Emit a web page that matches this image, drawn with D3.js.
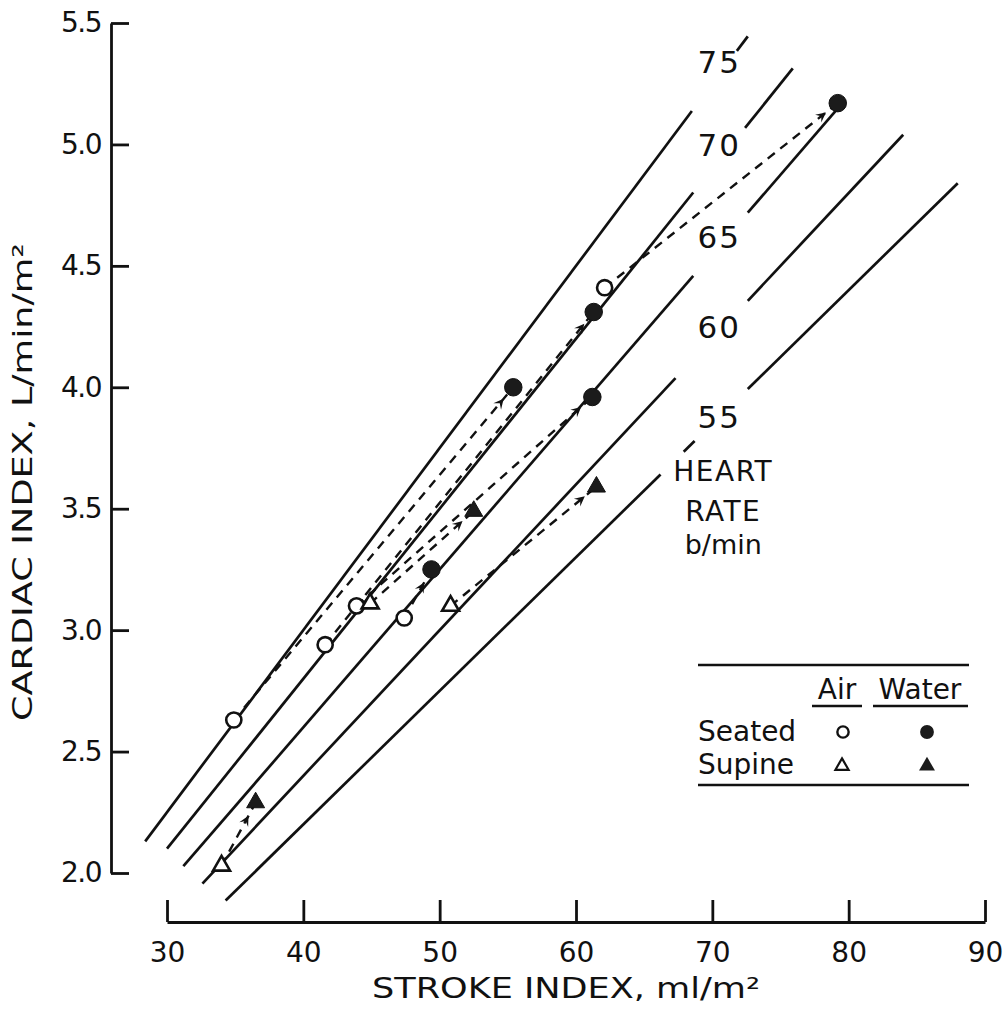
<!DOCTYPE html>
<html>
<head>
<meta charset="utf-8">
<script src="https://cdn.jsdelivr.net/npm/d3@7"></script>
<style>
  body { margin: 0; background: #fff; }
  svg { display: block; }
  text { font-family: "DejaVu Sans", sans-serif; fill: #111; }
</style>
</head>
<body>
<div id="chart"></div>
<script>
// heart-rate isopleths: CI = HR * SI / 1000
const hrLevels = [75, 70, 65, 60, 55];
// stroke-index spans drawn for each isopleth (broken where the labels sit)
const hrSpans = [
    [[28.4, 68.5], [71.8, 72.6]],
    [[30.0, 68.6], [72.4, 75.9]],
    [[31.2, 68.6], [72.6, 79.6]],
    [[32.6, 67.3], [72.6, 84.0]],
    [[34.3, 66.2], [67.9, 68.7], [72.6, 88.0]]
];
const hrLabelSI = 70.5;
const hrLabelCI = [5.34, 5.0, 4.62, 4.25, 3.88];

// [stroke index, cardiac index]
const seatedAir = [[34.9, 2.63], [41.6, 2.94], [43.9, 3.10], [47.4, 3.05], [62.1, 4.41]];
const seatedWater = [[55.4, 4.00], [61.3, 4.31], [61.2, 3.96], [49.4, 3.25], [79.2, 5.17]];
const supineAir = [[34.0, 2.03], [44.9, 3.11], [50.8, 3.10]];
const supineWater = [[36.5, 2.29], [52.5, 3.49], [61.5, 3.59]];

const xMajor = [30, 40, 50, 60, 70, 80, 90];
const xMinor = [35, 45, 55, 65, 75, 85];
const yMajor = [2.0, 2.5, 3.0, 3.5, 4.0, 4.5, 5.0, 5.5];
const yMinor = d3.range(21, 55).filter(d => d % 5 != 0).map(d => d / 10);

const width = 1006, height = 1019;
const ink = "#111";

let svg = d3.select("#chart").append("svg")
    .attr("width", width)
    .attr("height", height);

svg.append("rect").attr("width", width).attr("height", height).attr("fill", "#fff");

let x = d3.scaleLinear().domain([30, 90]).range([167, 985]);
let y = d3.scaleLinear().domain([2.0, 5.5]).range([873, 23]);

const yAxisX = 111, xAxisY = 922;

// y axis (ticks point inward)
let gy = svg.append("g").attr("transform", "translate(" + yAxisX + ",0)");
gy.call(d3.axisLeft(y).tickValues(yMinor).tickSize(-9).tickSizeOuter(0).tickFormat(""));
gy.call(d3.axisLeft(y).tickValues(yMajor).tickSize(-18).tickSizeOuter(0).tickPadding(10)
    .tickFormat(d3.format(".1f")));
gy.selectAll("path, line").attr("stroke", ink).attr("stroke-width", 2.8);
gy.selectAll("text").attr("font-size", 28).attr("fill", ink).style("font-family", "DejaVu Sans")
    .attr("letter-spacing", -1.5);

// x axis
let gx = svg.append("g").attr("transform", "translate(0," + xAxisY + ")");
gx.call(d3.axisBottom(x).tickValues(xMinor).tickSize(-11).tickSizeOuter(0).tickFormat(""));
gx.call(d3.axisBottom(x).tickValues(xMajor).tickSize(-22).tickSizeOuter(0).tickPadding(20));
gx.selectAll("path, line").attr("stroke", ink).attr("stroke-width", 2.8);
gx.selectAll("text").attr("font-size", 28).attr("fill", ink).style("font-family", "DejaVu Sans");

// axis titles
svg.append("text")
    .attr("x", 566).attr("y", 998)
    .attr("text-anchor", "middle")
    .attr("font-size", 28)
    .attr("textLength", 388).attr("lengthAdjust", "spacingAndGlyphs")
    .text("STROKE  INDEX, ml/m²");

svg.append("text")
    .attr("transform", "translate(32,482) rotate(-90)")
    .attr("text-anchor", "middle")
    .attr("font-size", 27)
    .attr("textLength", 478).attr("lengthAdjust", "spacingAndGlyphs")
    .text("CARDIAC INDEX, L/min/m²");

// heart-rate isopleths
let isoLine = d3.line().x(d => x(d[0])).y(d => y(d[1]));
hrLevels.forEach((hr, i) => {
    hrSpans[i].forEach(span => {
        svg.append("path")
            .attr("d", isoLine(span.map(si => [si, hr * si / 1000])))
            .attr("fill", "none")
            .attr("stroke", ink)
            .attr("stroke-width", 2.7);
    });
    svg.append("text")
        .attr("x", x(hrLabelSI)).attr("y", y(hrLabelCI[i]))
        .attr("dy", "0.36em")
        .attr("text-anchor", "middle")
        .attr("font-size", 31)
        .attr("letter-spacing", 2)
        .text(hr);
});

let hrTitleX = x(70.8);
["HEART", "RATE", "b/min"].forEach((t, i) => {
    svg.append("text")
        .attr("x", hrTitleX).attr("y", [481, 521, 554][i])
        .attr("text-anchor", "middle")
        .attr("font-size", i < 2 ? 28 : 27)
        .attr("letter-spacing", i < 2 ? 1.5 : 0)
        .text(t);
});

// air -> water connections
function drawPairs(from, to) {
    from.forEach((a, i) => {
        let b = to[i];
        let x1 = x(a[0]), y1 = y(a[1]), x2 = x(b[0]), y2 = y(b[1]);
        svg.append("line")
            .attr("x1", x1).attr("y1", y1).attr("x2", x2).attr("y2", y2)
            .attr("stroke", ink)
            .attr("stroke-width", 2.4)
            .attr("stroke-dasharray", "9,7");
        // small arrowhead just short of the water point
        let ang = Math.atan2(y2 - y1, x2 - x1);
        let len = Math.hypot(x2 - x1, y2 - y1);
        let d = Math.min(15, len * 0.45);
        svg.append("path")
            .attr("d", "M0,0 L-10,-5 L-6,0 L-10,5 Z")
            .attr("fill", ink)
            .attr("transform", "translate(" + (x2 - d * Math.cos(ang)) + "," + (y2 - d * Math.sin(ang)) +
                ") rotate(" + (ang * 180 / Math.PI) + ")");
    });
}
drawPairs(seatedAir, seatedWater);
drawPairs(supineAir, supineWater);

// markers
const circleSym = d3.symbol().type(d3.symbolCircle);
const triSym = d3.symbol().type(d3.symbolTriangle);

function drawMarkers(data, sym, size, filled) {
    svg.append("g").selectAll("path")
        .data(data)
        .enter()
        .append("path")
        .attr("d", sym.size(size)())
        .attr("transform", d => "translate(" + x(d[0]) + "," + y(d[1]) + ")")
        .attr("fill", filled ? "#1b1b1b" : "#fff")
        .attr("stroke", ink)
        .attr("stroke-width", filled ? 1 : 2.6);
}
drawMarkers(seatedAir, circleSym, 180, false);
drawMarkers(seatedWater, circleSym, 240, true);
drawMarkers(supineAir, triSym, 125, false);
drawMarkers(supineWater, triSym, 140, true);

// legend
let lg = svg.append("g");
[665, 785].forEach(ly => {
    lg.append("line").attr("x1", 698).attr("x2", 969).attr("y1", ly).attr("y2", ly)
        .attr("stroke", ink).attr("stroke-width", 2.6);
});
[["Air", 837, 812, 862], ["Water", 920, 873, 968]].forEach(h => {
    lg.append("text").attr("x", h[1]).attr("y", 699).attr("text-anchor", "middle")
        .attr("font-size", 28).text(h[0]);
    lg.append("line").attr("x1", h[2]).attr("x2", h[3]).attr("y1", 706).attr("y2", 706)
        .attr("stroke", ink).attr("stroke-width", 2.6);
});
lg.append("text").attr("x", 698).attr("y", 741).attr("font-size", 28).text("Seated");
lg.append("text").attr("x", 698).attr("y", 774).attr("font-size", 28).text("Supine");
lg.append("path").attr("d", circleSym.size(100)()).attr("transform", "translate(843,732)")
    .attr("fill", "#fff").attr("stroke", ink).attr("stroke-width", 2.4);
lg.append("path").attr("d", circleSym.size(150)()).attr("transform", "translate(927,732)")
    .attr("fill", "#1b1b1b");
lg.append("path").attr("d", triSym.size(75)()).attr("transform", "translate(842,766)")
    .attr("fill", "#fff").attr("stroke", ink).attr("stroke-width", 2.2);
lg.append("path").attr("d", triSym.size(110)()).attr("transform", "translate(927,766)")
    .attr("fill", "#1b1b1b");
</script>
</body>
</html>
